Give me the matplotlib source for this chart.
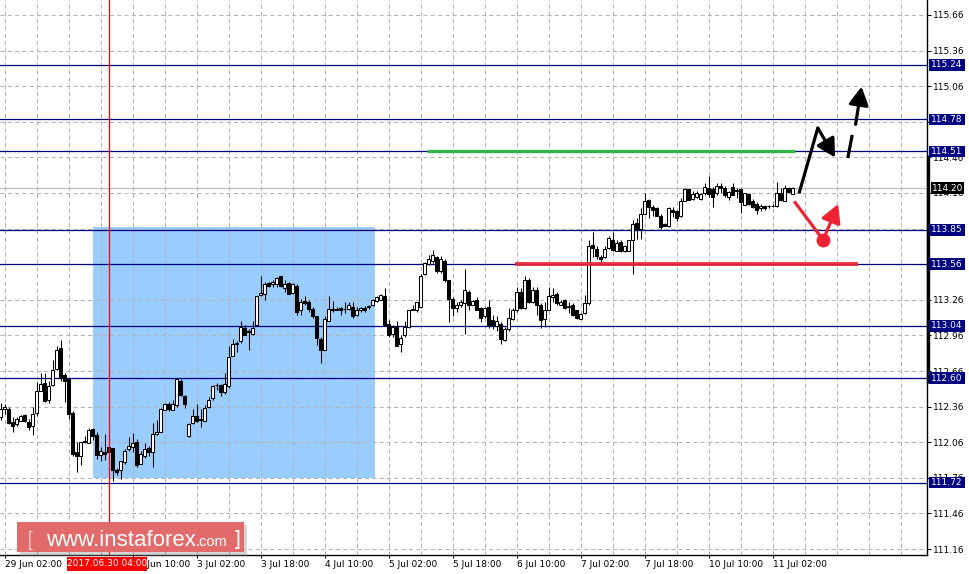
import matplotlib
matplotlib.use("Agg")
import matplotlib.pyplot as plt
from matplotlib.patches import Rectangle
import matplotlib.transforms as mtransforms

# ---------------- data ----------------
open_ = [112.27,112.34,112.34,112.23,112.21,112.24,112.29,112.23,112.20,112.31,
         112.49,112.56,112.42,112.54,112.68,112.85,112.63,112.59,112.31,111.98,
         111.94,112.07,112.05,112.17,112.12,111.95,111.98,112.02,112.01,111.83,
         111.83,111.89,112.00,112.02,112.06,111.88,111.94,112.01,111.98,112.13,
         112.15,112.33,112.38,112.33,112.37,112.58,112.45,112.11,112.22,112.28,
         112.25,112.24,112.36,112.43,112.54,112.54,112.48,112.53,112.79,112.90,
         112.91,113.02,112.99,112.97,113.05,113.30,113.31,113.40,113.39,113.39,
         113.46,113.36,113.40,113.32,113.38,113.17,113.25,113.24,113.18,113.12,
         112.93,112.84,113.08,113.18,113.18,113.19,113.18,113.18,113.20,113.13,
         113.17,113.19,113.20,113.22,113.25,113.26,113.29,113.06,112.97,113.04,
         112.89,112.96,113.03,113.18,113.17,113.20,113.48,113.56,113.59,113.62,
         113.50,113.59,113.43,113.27,113.19,113.22,113.23,113.33,113.22,113.26,
         113.19,113.12,113.20,113.09,113.04,113.06,112.92,113.01,113.10,113.17,
         113.33,113.19,113.43,113.24,113.34,113.22,113.10,113.17,113.28,113.31,
         113.22,113.26,113.20,113.22,113.17,113.10,113.15,113.23,113.72,113.69,
         113.62,113.62,113.70,113.76,113.67,113.75,113.67,113.67,113.76,113.91,
         113.86,113.98,114.10,114.04,114.03,113.97,113.90,113.88,114.02,114.01,
         113.97,114.09,114.19,114.11,114.13,114.11,114.16,114.20,114.19,114.16,
         114.22,114.20,114.13,114.21,114.18,114.19,114.06,114.15,114.09,114.07,
         114.03,114.05,114.05,114.05,114.05,114.16,114.09,114.20,114.15]
high = [112.39,112.38,112.36,112.27,112.27,112.29,112.30,112.26,112.36,112.57,
        112.64,112.64,112.58,112.75,112.87,112.92,112.64,112.60,112.32,112.06,
        112.06,112.11,112.18,112.18,112.15,112.02,112.13,112.03,112.01,111.84,
        111.90,112.00,112.10,112.14,112.09,111.99,112.05,112.03,112.22,112.25,
        112.35,112.39,112.40,112.42,112.59,112.59,112.46,112.22,112.34,112.38,
        112.34,112.37,112.44,112.54,112.56,112.55,112.64,112.87,112.93,112.91,
        113.08,113.05,113.01,113.08,113.29,113.46,113.41,113.41,113.43,113.45,
        113.46,113.43,113.41,113.40,113.39,113.27,113.29,113.26,113.20,113.12,
        112.95,113.12,113.29,113.25,113.20,113.20,113.24,113.24,113.24,113.20,
        113.20,113.21,113.22,113.27,113.29,113.31,113.36,113.09,113.05,113.08,
        112.96,113.08,113.17,113.22,113.24,113.48,113.58,113.64,113.68,113.63,
        113.63,113.60,113.43,113.28,113.24,113.26,113.52,113.34,113.26,113.28,
        113.20,113.20,113.26,113.13,113.12,113.07,113.03,113.19,113.19,113.37,
        113.36,113.46,113.44,113.37,113.37,113.23,113.24,113.37,113.36,113.33,
        113.26,113.27,113.24,113.23,113.17,113.15,113.30,113.76,113.83,113.71,
        113.64,113.71,113.80,113.83,113.76,113.76,113.72,113.76,113.93,113.95,
        114.03,114.16,114.11,114.06,114.04,113.98,113.91,114.04,114.04,114.02,
        114.12,114.20,114.19,114.18,114.18,114.16,114.24,114.30,114.21,114.24,
        114.24,114.22,114.18,114.24,114.20,114.20,114.16,114.16,114.11,114.08,
        114.07,114.06,114.06,114.07,114.25,114.20,114.23,114.21,114.21]
low = [112.25,112.30,112.21,112.15,112.20,112.24,112.23,112.16,112.12,112.28,
       112.49,112.40,112.39,112.53,112.67,112.58,112.40,112.26,111.94,111.81,
       111.87,112.05,112.05,112.08,111.92,111.90,111.91,111.97,111.73,111.78,
       111.75,111.88,111.99,111.98,111.85,111.88,111.93,111.94,111.85,112.12,
       112.15,112.33,112.32,112.33,112.36,112.45,112.35,112.10,112.21,112.23,
       112.19,112.24,112.35,112.42,112.50,112.45,112.47,112.52,112.79,112.82,
       112.90,112.96,112.84,112.96,113.05,113.29,113.26,113.37,113.37,113.37,
       113.37,113.33,113.31,113.31,113.13,113.13,113.22,113.16,113.11,112.88,
       112.73,112.84,113.08,113.16,113.17,113.13,113.15,113.17,113.11,113.12,
       113.16,113.16,113.18,113.21,113.24,113.26,113.05,112.95,112.95,112.87,
       112.82,112.95,113.02,113.17,113.16,113.19,113.47,113.55,113.57,113.49,
       113.49,113.41,113.07,113.12,113.16,113.20,112.97,113.17,113.22,113.17,
       113.07,113.11,113.02,113.01,113.00,112.89,112.91,113.00,113.09,113.16,
       113.18,113.18,113.23,113.23,113.13,113.02,113.03,113.17,113.24,113.22,
       113.22,113.18,113.15,113.12,113.10,113.10,113.14,113.22,113.62,113.60,
       113.55,113.61,113.69,113.67,113.67,113.66,113.66,113.67,113.48,113.77,
       113.77,113.98,113.95,113.97,113.97,113.86,113.88,113.87,113.96,113.92,
       113.96,114.09,114.10,114.10,114.12,114.10,114.14,114.13,114.04,114.14,
       114.16,114.13,114.10,114.14,114.12,113.99,114.06,114.06,114.03,113.98,
       114.01,114.02,114.03,114.04,114.04,114.09,114.09,114.17,114.15]
close = [112.34,112.36,112.22,112.20,112.26,112.28,112.24,112.19,112.30,112.49,
         112.55,112.41,112.53,112.67,112.84,112.60,112.58,112.30,111.96,111.94,
         112.06,112.06,112.16,112.11,111.95,111.99,111.96,111.98,111.83,111.81,
         111.90,111.99,112.03,112.05,111.87,111.96,112.00,111.98,112.13,112.15,
         112.34,112.38,112.34,112.38,112.59,112.46,112.38,112.21,112.28,112.24,
         112.25,112.35,112.42,112.53,112.54,112.48,112.55,112.78,112.89,112.89,
         113.03,112.96,112.99,113.02,113.29,113.32,113.39,113.38,113.41,113.44,
         113.38,113.39,113.31,113.39,113.16,113.24,113.23,113.18,113.12,112.94,
         112.84,113.10,113.18,113.17,113.17,113.17,113.18,113.22,113.12,113.17,
         113.19,113.17,113.20,113.26,113.28,113.30,113.05,112.96,113.03,112.87,
         112.94,113.03,113.17,113.17,113.24,113.46,113.57,113.60,113.64,113.50,
         113.60,113.43,113.27,113.19,113.22,113.24,113.34,113.22,113.25,113.17,
         113.11,113.19,113.05,113.05,113.08,112.93,113.01,113.11,113.17,113.33,
         113.19,113.43,113.24,113.34,113.22,113.09,113.17,113.29,113.30,113.23,
         113.24,113.19,113.20,113.13,113.11,113.14,113.23,113.71,113.70,113.63,
         113.60,113.69,113.78,113.68,113.74,113.67,113.71,113.76,113.90,113.86,
         113.98,114.09,114.04,114.02,113.97,113.87,113.88,114.03,114.00,113.95,
         114.09,114.19,114.10,114.15,114.16,114.15,114.21,114.15,114.13,114.22,
         114.20,114.14,114.17,114.14,114.18,114.08,114.16,114.07,114.04,114.02,
         114.05,114.03,114.05,114.05,114.16,114.10,114.20,114.17,114.20]

# bar 17 ("29 Jun 18:00") is fully covered by the cursor label in the reference
x_tick_bars = [1, 33, 49, 65, 81, 97, 113, 129, 145, 161, 177, 193]
x_tick_labels = ["29 Jun 02:00", "30 Jun 10:00", "3 Jul 02:00",
                 "3 Jul 18:00", "4 Jul 10:00", "5 Jul 02:00", "5 Jul 18:00",
                 "6 Jul 10:00", "7 Jul 02:00", "7 Jul 18:00", "10 Jul 10:00",
                 "11 Jul 02:00"]
# 113.86 / 113.56 tick labels are fully hidden under level boxes in the reference
y_ticks = [115.66, 115.36, 115.06, 114.76, 114.46, 114.16, 113.86, 113.56,
           113.26, 112.96, 112.66, 112.36, 112.06, 111.76, 111.46, 111.16]
y_hidden = [113.86, 113.56]
level_prices = [115.24, 114.78, 114.51, 113.85, 113.56, 113.04, 112.60, 111.72]
current_price = 114.20
cursor_bar = 27
cursor_label = "2017.06.30 04:00"

zone_bars = (23.1, 93.6)
zone_prices = (111.76, 113.87)
green_level = (114.51, 106.6, 198.6)     # price, from bar, to bar
red_level = (113.56, 128.6, 214.3)

black_path = [(199.6, 114.156), (204.3, 114.708), (208.6, 114.459)]
dash_path = [(211.8, 114.455), (212.9, 114.649), (213.75, 114.739), (215.25, 115.056)]
red_path = [(198.4, 114.090), (205.65, 113.764), (209.4, 114.067)]
range_bar = (112.56, 114.48)

XMIN, XMAX = -0.175, 231.6
YMIN, YMAX = 111.110, 115.786

# ---------------- figure ----------------
W, H = 969, 574
fig = plt.figure(figsize=(W / 100, H / 100), dpi=100)
fig.patch.set_facecolor("white")
ax = fig.add_axes([0, 19 / H, 927 / W, 555 / H])
ax.set_xlim(XMIN, XMAX)
ax.set_ylim(YMIN, YMAX)
ax.set_facecolor("white")

FONT = "DejaVu Sans"
FS = 6.5

# zone rectangle
ax.add_patch(Rectangle((zone_bars[0], zone_prices[0]), zone_bars[1] - zone_bars[0],
                       zone_prices[1] - zone_prices[0], facecolor="#99ccff",
                       edgecolor="none", zorder=0.5))

# grid
grid_kw = dict(color="#b4b4b4", lw=0.75, ls=(0, (4, 3)), zorder=1)
for yv in y_ticks:
    ax.axhline(yv, **grid_kw)
k = 1
while k < XMAX:
    ax.axvline(k, **grid_kw)
    k += 8

# current price line
ax.axhline(current_price, color="#c0c0c0", lw=0.9, zorder=1.2)

# level lines
for p in level_prices:
    ax.axhline(p, color="#000080", lw=0.9, zorder=1.5)

# candles
n = len(close)
xs = list(range(n))
ax.vlines(xs, low, high, color="black", lw=0.75, zorder=3)
for i in range(n):
    o, c = open_[i], close[i]
    bot = min(o, c)
    h = max(abs(c - o), 0.004)
    fc = "white" if c >= o else "black"
    ax.add_patch(Rectangle((i - 0.32, bot), 0.64, h, facecolor=fc, edgecolor="black",
                           lw=0.75, zorder=4))

# colored levels
ax.plot([green_level[1], green_level[2]], [green_level[0]] * 2, color="#33b44a",
        lw=2.4, solid_capstyle="butt", zorder=5)
ax.plot([red_level[1], red_level[2]], [red_level[0]] * 2, color="#ee2233",
        lw=2.8, solid_capstyle="butt", zorder=5, alpha=0.9)

# cursor line
ax.axvline(cursor_bar, color="red", lw=0.9, zorder=6)

# arrows
head = "-|>,head_length=0.55,head_width=0.3"
ax.plot([black_path[0][0], black_path[1][0]], [black_path[0][1], black_path[1][1]],
        color="black", lw=2.3, solid_capstyle="butt", zorder=7)
ax.annotate("", xy=black_path[2], xytext=black_path[1],
            arrowprops=dict(arrowstyle=head, color="black", lw=2.3, shrinkA=0, shrinkB=0,
                            mutation_scale=20),
            zorder=7, annotation_clip=False)
ax.plot([dash_path[0][0], dash_path[1][0]], [dash_path[0][1], dash_path[1][1]],
        color="black", lw=2.3, solid_capstyle="butt", zorder=7)
ax.annotate("", xy=dash_path[3], xytext=dash_path[2],
            arrowprops=dict(arrowstyle=head, color="black", lw=2.3, shrinkA=0, shrinkB=0,
                            mutation_scale=20),
            zorder=7, annotation_clip=False)
ax.plot([red_path[0][0], red_path[1][0]], [red_path[0][1], red_path[1][1]],
        color="#ee2233", lw=2.3, solid_capstyle="butt", zorder=7)
ax.plot([red_path[1][0]], [red_path[1][1]], marker="o", ms=9, color="#ee2233", zorder=7)
ax.annotate("", xy=red_path[2], xytext=red_path[1],
            arrowprops=dict(arrowstyle=head, color="#ee2233", lw=2.3, shrinkA=0, shrinkB=0,
                            mutation_scale=20),
            zorder=7, annotation_clip=False)

# spines / ticks
for s in ("top", "left"):
    ax.spines[s].set_visible(False)
for s in ("right", "bottom"):
    ax.spines[s].set_color("black")
    ax.spines[s].set_linewidth(1.0)

ax.yaxis.tick_right()
ax.set_yticks(y_ticks)
ax.set_yticklabels(["" if v in y_hidden else f"{v:.2f}" for v in y_ticks],
                   fontsize=FS, family=FONT)
ax.tick_params(axis="y", length=3, width=0.75, pad=1.5, colors="black")
ax.set_xticks(x_tick_bars)
ax.set_xticklabels(x_tick_labels, fontsize=FS, family=FONT, ha="left")
ax.tick_params(axis="x", length=2, width=0.75, pad=1.5, colors="black")

# range bar on right spine
blend = mtransforms.blended_transform_factory(ax.transAxes, ax.transData)
ax.plot([1.0 + 1.5 / 927] * 2, list(range_bar), color="black", lw=2.4,
        transform=blend, clip_on=False, zorder=6, solid_capstyle="butt")

# level label boxes
bh = 11.5 / 118.7
x0 = 929 / 927
bw = 36 / 927
for p in level_prices:
    ax.add_patch(Rectangle((x0, p - bh / 2), bw, bh, transform=blend, facecolor="#000080",
                           edgecolor="none", clip_on=False, zorder=8))
    ax.text(x0 + bw / 2, p, f"{p:.2f}", transform=blend, color="white", fontsize=FS,
            family=FONT, ha="center", va="center", zorder=9, clip_on=False)
ax.add_patch(Rectangle((931 / 927, current_price - bh / 2), 33 / 927, bh, transform=blend,
                       facecolor="black", edgecolor="none", clip_on=False, zorder=8))
ax.text((931 + 16.5) / 927, current_price, f"{current_price:.2f}", transform=blend,
        color="white", fontsize=FS, family=FONT, ha="center", va="center", zorder=9,
        clip_on=False)


def fx(px):
    return px / W


def fy(py):
    return 1 - py / H


# cursor date label
fig.patches.append(Rectangle((fx(67), fy(571)), fx(80), 14 / H, transform=fig.transFigure,
                             facecolor="red", edgecolor="none", zorder=10))
fig.text(fx(107), fy(564), cursor_label, color="white", fontsize=FS, family=FONT,
         ha="center", va="center", zorder=11)

# watermark
fig.patches.append(Rectangle((fx(20), fy(556)), fx(227), 31 / H, transform=fig.transFigure,
                             facecolor="#888888", edgecolor="none", alpha=0.35, zorder=10))
fig.patches.append(Rectangle((fx(17), fy(552)), fx(227), 30 / H, transform=fig.transFigure,
                             facecolor="#e26a6a", edgecolor="none", zorder=10.5))
base_y = fy(546)
fig.text(fx(27), base_y, "[", color="white", fontsize=15, family="DejaVu Sans",
         ha="left", va="baseline", zorder=11, fontweight="light")
t_main = fig.text(fx(46), base_y, "www.instaforex", color="white", fontsize=15,
                  family="Liberation Sans", ha="left", va="baseline", zorder=11)
fig.canvas.draw()
r = fig.canvas.get_renderer()
bb = t_main.get_window_extent(r)
t_main.set_fontsize(15 * 150 / bb.width)
fig.canvas.draw()
bb = t_main.get_window_extent(r)
fig.text(bb.x1 / W, base_y, ".com", color="white", fontsize=10.5,
         family="Liberation Sans", ha="left", va="baseline", zorder=11)
fig.text(fx(233), base_y, "]", color="white", fontsize=15, family="DejaVu Sans",
         ha="left", va="baseline", zorder=11)

fig.savefig("out.png", dpi=100)
